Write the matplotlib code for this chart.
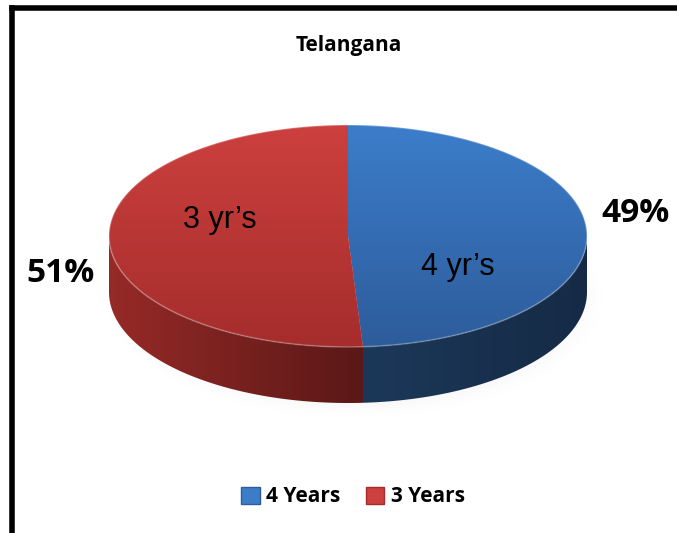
import numpy as np
import matplotlib
matplotlib.use("Agg")
import matplotlib.pyplot as plt
from matplotlib.patches import Polygon, Patch
from matplotlib.colors import LinearSegmentedColormap

# data
labels = ["4 Years", "3 Years"]
inner_labels = ["4 yr\u2019s", "3 yr\u2019s"]
shares = [49, 51]

title = "Telangana"

# colours (top face light/dark, side light/dark)
top_cols = [("#3c7dca", "#2d5c9b"), ("#cc403e", "#a52d2c")]
side_cols = [("#1c3859", "#152a46"), ("#962a27", "#5a1817")]

# label placement (offsets from pie centre, px)
inner_pos = [(110, 31), (-128, -16)]
outer_pos = [(288, -23), (-287, 38)]

W, H = 677, 533
fig = plt.figure(figsize=(W / 100, H / 100), dpi=100)
ax = fig.add_axes([0, 0, 1, 1])
ax.set_xlim(0, W)
ax.set_ylim(H, 0)
ax.axis("off")

cx, cy = 348, 236
a, b = 239, 111
depth = 56


def ell(theta):
    return cx + a * np.cos(theta), cy - b * np.sin(theta)


def grad_fill(poly, c1, c2, vertical=True):
    xs, ys = poly[:, 0], poly[:, 1]
    x0, x1, y0, y1 = xs.min(), xs.max(), ys.min(), ys.max()
    cmap = LinearSegmentedColormap.from_list("g", [c1, c2])
    g = np.linspace(0, 1, 256)
    arr = g[:, None] if vertical else g[None, :]
    im = ax.imshow(arr, cmap=cmap, extent=(x0, x1, y1, y0), aspect="auto",
                   interpolation="bilinear", zorder=2)
    patch = Polygon(poly, closed=True, facecolor="none", edgecolor="none")
    ax.add_patch(patch)
    im.set_clip_path(patch)


# soft shadow under the pie
yy, xx = np.mgrid[0:H, 0:W]
d = ((xx - cx - 6) / (a + 6)) ** 2 + ((yy - cy - depth - 6) / (b + 6)) ** 2
shadow = np.clip(1.15 - d, 0, 1) ** 2 * 0.25
rgba = np.zeros((H, W, 4))
rgba[..., 3] = shadow
ax.imshow(rgba, extent=(0, W, H, 0), zorder=1, interpolation="bilinear")

fracs = np.array(shares) / sum(shares)
start = np.pi / 2
bounds = []
for f in fracs:
    end = start - f * 2 * np.pi
    bounds.append((start, end))
    start = end

# sides (front half only)
for (t0, t1), (s1, s2) in zip(bounds, side_cols):
    lo, hi = min(t0, t1), max(t0, t1)
    for k in (-2, -1, 0, 1):
        l2, h2 = lo + k * 2 * np.pi, hi + k * 2 * np.pi
        l3, h3 = max(l2, -np.pi), min(h2, 0)
        if h3 > l3:
            th = np.linspace(l3, h3, 200)
            x, y = ell(th)
            poly = np.column_stack([np.r_[x, x[::-1]], np.r_[y, y[::-1] + depth]])
            grad_fill(poly, s1, s2, vertical=False)

# top faces
for (t0, t1), (c1, c2) in zip(bounds, top_cols):
    th = np.linspace(t0, t1, 300)
    x, y = ell(th)
    poly = np.column_stack([np.r_[cx, x], np.r_[cy, y]])
    grad_fill(poly, c1, c2, vertical=True)

# subtle rim highlight
th = np.linspace(0, 2 * np.pi, 400)
x, y = ell(th)
ax.plot(x, y, color="white", alpha=0.25, lw=1.2, zorder=3)

# inside labels
for (dx, dy), lab in zip(inner_pos, inner_labels):
    ax.text(cx + dx, cy + dy, lab, fontsize=22, family="Liberation Sans",
            ha="center", va="center", color="black", zorder=4)

# outside percentage labels
for (dx, dy), s in zip(outer_pos, shares):
    ax.text(cx + dx, cy + dy, f"{s}%", fontsize=24, family="Open Sans",
            weight="bold", ha="center", va="center", zorder=4)

ax.text(cx + 1, 46, title, fontsize=15, family="Open Sans", weight="bold",
        ha="center", va="center")

# legend
handles = [Patch(facecolor=c[0], edgecolor=c[1]) for c in top_cols]
fig.legend(handles, labels, loc="center", bbox_to_anchor=(353 / W, 1 - 497 / H),
           ncol=2, frameon=False, handlelength=0.9, handleheight=0.9,
           handletextpad=0.3, columnspacing=1.2,
           prop={"family": "Open Sans", "weight": "bold", "size": 15})

# frame lines (left and top)
ax.plot([12, 12], [H, 8], color="black", lw=4, solid_capstyle="projecting", zorder=5)
ax.plot([12, W], [8, 8], color="black", lw=4, solid_capstyle="projecting", zorder=5)

fig.savefig("out.png", dpi=100)
